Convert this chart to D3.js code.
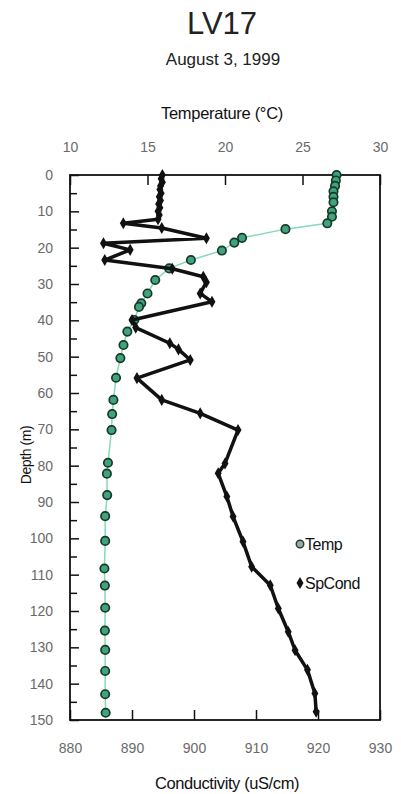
<!DOCTYPE html>
<html lang="en">
<head>
<meta charset="UTF-8">
<title>LV17</title>
<script src="https://cdn.jsdelivr.net/npm/d3@7/dist/d3.min.js"></script>
<style>
  body { margin: 0; background: #fff; }
  text { font-family: Arial, "Liberation Sans", sans-serif; }
  .tick-label { fill: #6a6a6a; font-size: 14px; }
</style>
</head>
<body>
<div id="chart"></div>
<script>
// depth profile readings (m)
const tempDepth = [0, 1.5, 3, 4.5, 6, 7.5, 10, 11.5, 13.3, 14.9, 17.3, 18.6, 20.8, 23.4, 25.7, 28.9, 32.6, 35.3, 36.3, 39.9, 43.1, 46.8, 50.4, 55.8, 61.9, 65.8, 70.2, 79.2, 82.2, 88.1, 93.9, 100.7, 108.3, 113, 119.1, 125.4, 130.7, 136.5, 142.9, 148]
const tempValue = [27.2, 27.15, 27.1, 27.0, 27.0, 27.0, 26.9, 26.9, 26.6, 23.9, 21.1, 20.6, 19.8, 17.8, 16.4, 15.5, 15.0, 14.6, 14.45, 14.15, 13.7, 13.45, 13.25, 12.97, 12.8, 12.72, 12.68, 12.45, 12.38, 12.4, 12.27, 12.27, 12.22, 12.25, 12.27, 12.25, 12.27, 12.27, 12.27, 12.3]

const condDepth = [0, 1, 2, 3, 4, 5, 6, 7, 8, 9, 10, 11, 12.2, 13.3, 14.6, 17.4, 18.8, 20.6, 23.4, 25.8, 28, 29.5, 32.6, 34.9, 39.9, 42, 46.3, 48, 50.9, 55.9, 61.9, 65.6, 70.2, 79.4, 82.1, 88.5, 94, 100.9, 107.8, 112.9, 119.3, 125.7, 130.8, 136.2, 142.7, 147.7]
const condValue = [894.9, 894.7, 894.9, 894.6, 894.5, 894.7, 894.4, 894.6, 894.3, 894.5, 894.2, 894.4, 894.2, 888.6, 894.8, 902.0, 885.4, 889.7, 885.6, 896.5, 901.5, 902.0, 901.0, 902.9, 890.0, 890.6, 896.1, 897.5, 899.4, 890.8, 894.8, 901.0, 907.1, 905.0, 903.9, 905.3, 906.3, 907.9, 909.3, 912.3, 913.6, 915.2, 916.3, 918.3, 919.5, 919.7]

const depthTicks = d3.range(0, 151, 10)
const depthMinor = d3.range(5, 150, 10)
const tempTicks = [10, 15, 20, 25, 30]
const condTicks = [880, 890, 900, 910, 920, 930]

const width = 401, height = 794
const margin = { left: 70, top: 175, right: 21, bottom: 74 }
const g_width = width - margin.left - margin.right,
      g_height = height - margin.top - margin.bottom

const svg = d3.select('#chart').append('svg').attr('width', width).attr('height', height)

svg.append('text').attr('x', 222).attr('y', 34).attr('text-anchor', 'middle')
  .attr('font-size', 31).attr('fill', '#222').text('LV17')
svg.append('text').attr('x', 223).attr('y', 65).attr('text-anchor', 'middle')
  .attr('font-size', 17).attr('fill', '#222').text('August 3, 1999')

const g = svg.append('g').attr('transform', `translate(${margin.left},${margin.top})`)

const y = d3.scaleLinear().domain([0, 150]).range([0, g_height])
const xT = d3.scaleLinear().domain([10, 30]).range([0, g_width])
const xC = d3.scaleLinear().domain([880, 930]).range([0, g_width])

// axes: ticks point into the plot
const axLeft = g.append('g').call(d3.axisLeft(y).tickValues(depthTicks).tickSize(-9).tickPadding(17))
const axLeftMinor = g.append('g').call(d3.axisLeft(y).tickValues(depthMinor).tickSize(-7).tickFormat(''))
const axTop = g.append('g').call(d3.axisTop(xT).tickValues(tempTicks).tickSize(-10).tickPadding(23))
const axBottom = g.append('g').attr('transform', `translate(0,${g_height})`)
  .call(d3.axisBottom(xC).tickValues(condTicks).tickSize(-10).tickPadding(23))

;[axLeft, axLeftMinor, axTop, axBottom].forEach(a => {
  a.select('.domain').remove()
  a.selectAll('line').attr('stroke', '#111').attr('stroke-width', 1.5)
  a.selectAll('text').attr('class', 'tick-label').attr('font-size', null).attr('font-family', null)
})

g.append('rect').attr('width', g_width).attr('height', g_height)
  .attr('fill', 'none').attr('stroke', '#111').attr('stroke-width', 1.8)

// temperature profile
const tempData = tempDepth.map((d, i) => ({ d, v: tempValue[i] }))
const tempLine = d3.line().x(p => xT(p.v)).y(p => y(p.d))
g.append('path').attr('d', tempLine(tempData))
  .attr('fill', 'none').attr('stroke', '#86d9b9').attr('stroke-width', 1.5)
g.selectAll('.tp').data(tempData).join('circle').attr('class', 'tp')
  .attr('cx', p => xT(p.v)).attr('cy', p => y(p.d)).attr('r', 4.2)
  .attr('fill', '#3fa47c').attr('stroke', '#17392a').attr('stroke-width', 1.7)

// specific conductance profile
const condData = condDepth.map((d, i) => ({ d, v: condValue[i] }))
const condLine = d3.line().x(p => xC(p.v)).y(p => y(p.d))
g.append('path').attr('d', condLine(condData))
  .attr('fill', 'none').attr('stroke', '#111').attr('stroke-width', 3.5).attr('stroke-linejoin', 'round')
const diamond = d3.symbol().type(d3.symbolDiamond).size(42)
g.selectAll('.cp').data(condData).join('path').attr('class', 'cp')
  .attr('transform', p => `translate(${xC(p.v)},${y(p.d)})`).attr('d', diamond).attr('fill', '#111')

// axis titles
svg.append('text').attr('x', 222).attr('y', 119).attr('text-anchor', 'middle')
  .attr('font-size', 16.5).attr('letter-spacing', -0.3).attr('fill', '#111').text('Temperature (°C)')
svg.append('text').attr('x', 227).attr('y', 789).attr('text-anchor', 'middle')
  .attr('font-size', 16.5).attr('letter-spacing', -0.4).attr('fill', '#111').text('Conductivity (uS/cm)')
svg.append('text').attr('transform', 'translate(31,455) rotate(-90)').attr('text-anchor', 'middle')
  .attr('font-size', 14).attr('letter-spacing', -0.4).attr('fill', '#111').text('Depth (m)')

// legend
const legend = svg.append('g')
legend.append('circle').attr('cx', 300).attr('cy', 544).attr('r', 3.8)
  .attr('fill', '#8fb0a0').attr('stroke', '#333').attr('stroke-width', 1.4)
legend.append('text').attr('x', 305).attr('y', 550).attr('font-size', 16).attr('letter-spacing', -0.5)
  .attr('fill', '#111').text('Temp')
legend.append('path').attr('transform', 'translate(300,583)').attr('d', diamond).attr('fill', '#111')
legend.append('text').attr('x', 305).attr('y', 589).attr('font-size', 16).attr('letter-spacing', -0.5)
  .attr('fill', '#111').text('SpCond')
</script>
</body>
</html>
